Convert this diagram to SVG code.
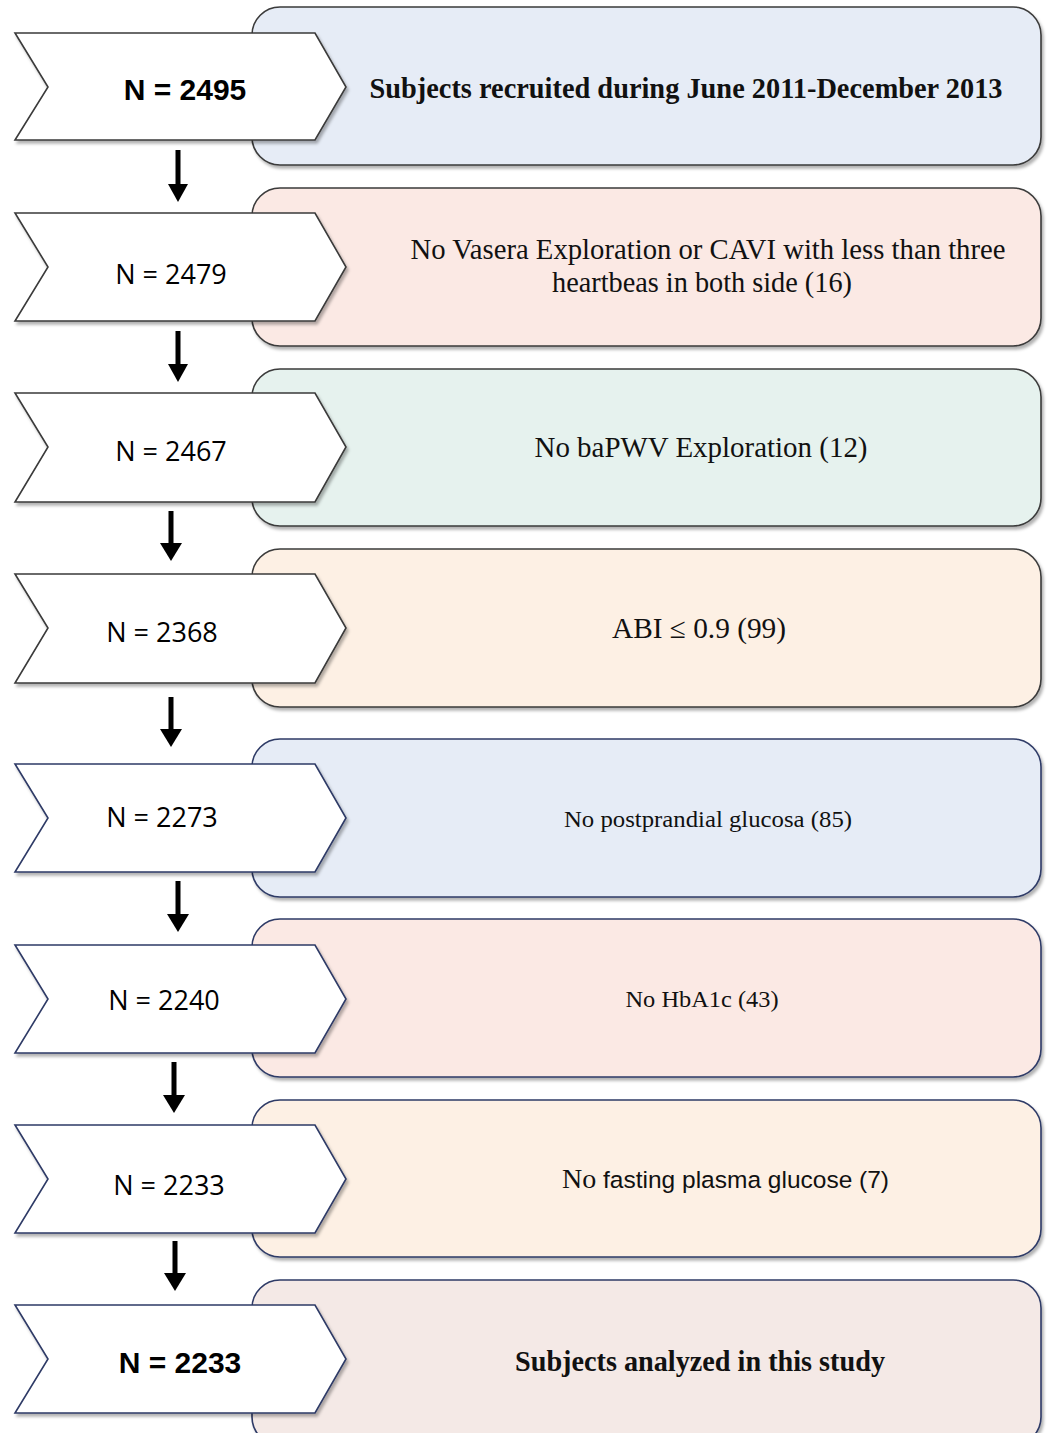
<svg xmlns="http://www.w3.org/2000/svg" width="1047" height="1433" viewBox="0 0 1047 1433">
<style>
.box{stroke-width:1.6}
.g{stroke:#3a3a3a}
.n{stroke:#2e3a66}
.chev{fill:#fff;stroke-width:1.6}
.nb{font-family:"Liberation Sans",Arial,sans-serif;font-weight:bold;font-size:30px;fill:#000;text-anchor:middle}
.nr{font-family:"Open Sans","Noto Sans",sans-serif;font-size:27px;fill:#000;text-anchor:middle}
.sb{font-family:"Liberation Serif","Times New Roman",serif;font-weight:bold;font-size:29px;fill:#111;text-anchor:middle}
.sr{font-family:"Liberation Serif","Times New Roman",serif;font-size:29px;fill:#111;text-anchor:middle}
.ss{font-family:"Liberation Serif","Times New Roman",serif;font-size:23px;fill:#111;text-anchor:middle}
.ah{fill:#000}
</style>
<defs>
<filter id="sh" x="-5%" y="-5%" width="110%" height="115%">
<feDropShadow dx="2" dy="3" stdDeviation="1.5" flood-color="#000" flood-opacity="0.3"/>
</filter>
</defs>
<g id="connectors">
<g class="ah">
<rect x="175.5" y="150" width="5" height="34"/><path d="M168,184 L188,184 L178,202 Z"/>
<rect x="175.5" y="331" width="5" height="33"/><path d="M168,364 L188,364 L178,382 Z"/>
<rect x="168.5" y="511" width="5" height="32"/><path d="M160,543 L182,543 L171,561 Z"/>
<rect x="168.5" y="697" width="5" height="32"/><path d="M160,729 L182,729 L171,747 Z"/>
<rect x="175.5" y="881" width="5" height="33"/><path d="M167,914 L189,914 L178,932 Z"/>
<rect x="171.5" y="1062" width="5" height="33"/><path d="M163,1095 L185,1095 L174,1113 Z"/>
<rect x="172.5" y="1241" width="5" height="32"/><path d="M164,1273 L186,1273 L175,1291 Z"/>
</g>
</g>
<g id="row1">
<rect class="box g" x="252" y="7" width="789" height="158" rx="28" fill="#e6ecf6" filter="url(#sh)"/>
<path class="chev g" d="M15,33 L315,33 L346,87 L315,140 L15,140 L48,87 Z" filter="url(#sh)"/>
<text class="nb" x="185" y="100">N = 2495</text>
<text class="sb" x="686" y="98" textLength="633" lengthAdjust="spacingAndGlyphs">Subjects recruited during June 2011-December 2013</text>
</g>
<g id="row2">
<rect class="box g" x="252" y="188" width="789" height="158" rx="28" fill="#fbe9e4" filter="url(#sh)"/>
<path class="chev g" d="M15,213 L315,213 L346,267 L315,321 L15,321 L48,267 Z" filter="url(#sh)"/>
<text class="nr" x="171" y="284">N = 2479</text>
<text class="sr" x="708" y="259" textLength="595" lengthAdjust="spacingAndGlyphs">No Vasera Exploration or CAVI with less than three</text>
<text class="sr" x="702" y="292" textLength="300" lengthAdjust="spacingAndGlyphs">heartbeas in both side (16)</text>
</g>
<g id="row3">
<rect class="box g" x="252" y="369" width="789" height="157" rx="28" fill="#e6f2ee" filter="url(#sh)"/>
<path class="chev g" d="M15,393 L315,393 L346,447 L315,502 L15,502 L48,447 Z" filter="url(#sh)"/>
<text class="nr" x="171" y="461">N = 2467</text>
<text class="sr" x="701" y="457" textLength="333" lengthAdjust="spacingAndGlyphs">No baPWV Exploration  (12)</text>
</g>
<g id="row4">
<rect class="box g" x="252" y="549" width="789" height="158" rx="28" fill="#fdf0e4" filter="url(#sh)"/>
<path class="chev g" d="M15,574 L315,574 L346,628 L315,683 L15,683 L48,628 Z" filter="url(#sh)"/>
<text class="nr" x="162" y="642">N = 2368</text>
<text class="sr" x="699" y="638" textLength="174" lengthAdjust="spacingAndGlyphs">ABI ≤  0.9 (99)</text>
</g>
<g id="row5">
<rect class="box n" x="252" y="739" width="789" height="158" rx="28" fill="#e6ecf6" filter="url(#sh)"/>
<path class="chev n" d="M15,764 L315,764 L346,818 L315,872 L15,872 L48,818 Z" filter="url(#sh)"/>
<text class="nr" x="162" y="827">N = 2273</text>
<text class="ss" x="708" y="827" textLength="288" lengthAdjust="spacingAndGlyphs">No postprandial glucosa  (85)</text>
</g>
<g id="row6">
<rect class="box n" x="252" y="919" width="789" height="158" rx="28" fill="#fbe9e4" filter="url(#sh)"/>
<path class="chev n" d="M15,945 L315,945 L346,999 L315,1053 L15,1053 L48,999 Z" filter="url(#sh)"/>
<text class="nr" x="164" y="1010">N = 2240</text>
<text class="ss" x="702" y="1007" textLength="153" lengthAdjust="spacingAndGlyphs">No HbA1c (43)</text>
</g>
<g id="row7">
<rect class="box n" x="252" y="1100" width="789" height="157" rx="28" fill="#fdf0e4" filter="url(#sh)"/>
<path class="chev n" d="M15,1125 L315,1125 L346,1179 L315,1233 L15,1233 L48,1179 Z" filter="url(#sh)"/>
<text class="nr" x="169" y="1195">N = 2233</text>
<text x="562" y="1188" font-family="Liberation Serif, serif" font-size="28" fill="#111">No<tspan font-family="Liberation Sans, Arial, sans-serif" font-size="24.5"> fasting plasma glucose (7)</tspan></text>
</g>
<g id="row8">
<rect class="box n" x="252" y="1280" width="789" height="165" rx="28" fill="#f4e9e6" filter="url(#sh)"/>
<path class="chev n" d="M15,1305 L315,1305 L346,1359 L315,1413 L15,1413 L48,1359 Z" filter="url(#sh)"/>
<text class="nb" x="180" y="1373">N = 2233</text>
<text class="sb" x="700" y="1371" textLength="370" lengthAdjust="spacingAndGlyphs">Subjects analyzed in this study</text>
</g>
</svg>
